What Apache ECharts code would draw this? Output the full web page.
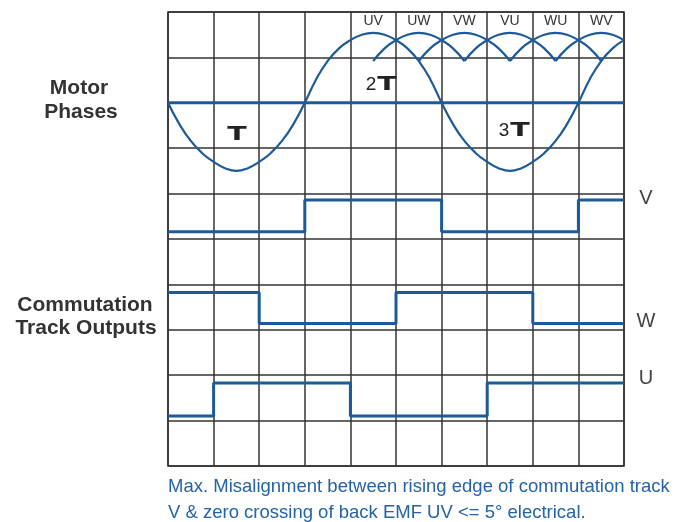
<!DOCTYPE html>
<html>
<head>
<meta charset="utf-8">
<script src="https://cdn.jsdelivr.net/npm/echarts@6/dist/echarts.min.js"></script>
<style>
  html, body { margin: 0; padding: 0; background: #fff; }
  #chart { width: 677px; height: 522px; }
</style>
</head>
<body>
<div id="chart"></div>
<script>
// grid is 10 x 10 cells, x in columns, y in rows counted from the bottom
var phaseX = [0, 0.25, 0.5, 0.75, 1, 1.25, 1.5, 1.75, 2, 2.25, 2.5, 2.75,
              3, 3.25, 3.5, 3.75, 4, 4.25, 4.5, 4.75, 5, 5.25, 5.5, 5.75,
              6, 6.25, 6.5, 6.75, 7, 7.25, 7.5, 7.75, 8, 8.25, 8.5, 8.75,
              9, 9.25, 9.5, 9.75, 10];
var phaseY = [8.0, 7.53, 7.16, 6.89, 6.7, 6.56, 6.5, 6.56, 6.7, 6.89, 7.16, 7.53,
              8.0, 8.52, 8.92, 9.2, 9.38, 9.5, 9.54, 9.5, 9.38, 9.2, 8.92, 8.52,
              8.0, 7.53, 7.16, 6.89, 6.7, 6.56, 6.5, 6.56, 6.7, 6.89, 7.16, 7.53,
              8.0, 8.52, 8.92, 9.2, 9.38];

// back EMF arcs near the top (UW ... WV)
var arcY = [8.92, 9.2, 9.38, 9.5, 9.54, 9.5, 9.38, 9.2, 8.92];
var uwX = [4.5, 4.75, 5, 5.25, 5.5, 5.75, 6, 6.25, 6.5];
var vwX = [5.5, 5.75, 6, 6.25, 6.5, 6.75, 7, 7.25, 7.5];
var vuX = [6.5, 6.75, 7, 7.25, 7.5, 7.75, 8, 8.25, 8.5];
var wuX = [7.5, 7.75, 8, 8.25, 8.5, 8.75, 9, 9.25, 9.5];
var wvX = [8.5, 8.75, 9, 9.25, 9.5, 9.75, 10];

var zeroLine = [[0, 8], [10, 8]];

// commutation tracks (edge positions / levels)
var vX = [0, 3, 6, 9, 10];
var vY = [5.16, 5.86, 5.16, 5.86, 5.86];
var wX = [0, 2, 5, 8, 10];
var wY = [3.82, 3.14, 3.82, 3.14, 3.14];
var uX = [0, 1, 4, 7, 10];
var uY = [1.10, 1.83, 1.10, 1.83, 1.83];

var pairLabels = ['UV', 'UW', 'VW', 'VU', 'WU', 'WV'];
var trackLabels = ['V', 'W', 'U'];

var BLUE = '#1d5a98';
var GRID_LEFT = 168, GRID_TOP = 12, GRID_W = 456, GRID_H = 454;

function zip(xs, ys) {
  var out = [];
  for (var i = 0; i < xs.length; i++) out.push([xs[i], ys[i]]);
  return out;
}

function curve(xs, ys) {
  return {
    type: 'line',
    data: zip(xs, ys),
    smooth: true,
    showSymbol: false,
    symbol: 'none',
    lineStyle: { color: BLUE, width: 2.2 }
  };
}

function track(xs, ys) {
  return {
    type: 'line',
    data: zip(xs, ys),
    step: 'end',
    showSymbol: false,
    symbol: 'none',
    lineStyle: { color: BLUE, width: 3 }
  };
}

var chart = echarts.init(document.getElementById('chart'));

var texts = [];
// column labels above the arcs
for (var i = 0; i < pairLabels.length; i++) {
  texts.push({
    type: 'text',
    x: GRID_LEFT + GRID_W / 10 * (4.5 + i),
    y: 21,
    style: { text: pairLabels[i], textAlign: 'center', textVerticalAlign: 'middle',
             font: '14px "Liberation Sans Narrow", "Liberation Sans", sans-serif', fill: '#333' }
  });
}
var trackY = [198, 321, 378];
for (var j = 0; j < trackLabels.length; j++) {
  texts.push({
    type: 'text', x: 646, y: trackY[j],
    style: { text: trackLabels[j], textAlign: 'center', textVerticalAlign: 'middle',
             font: '20px "Liberation Sans", sans-serif', fill: '#444' }
  });
}
var sideFont = 'bold 21px "Liberation Sans", sans-serif';
[['Motor', 79, 88], ['Phases', 81, 112], ['Commutation', 85, 305], ['Track Outputs', 86, 328]].forEach(function (t) {
  texts.push({
    type: 'text', x: t[1], y: t[2],
    style: { text: t[0], textAlign: 'center', textVerticalAlign: 'middle', font: sideFont, fill: '#333' }
  });
});
// period marks
[['T', 237, 135, true], ['2', 371, 85, false], ['T', 387, 85, true], ['3', 504, 131, false], ['T', 520, 131, true]].forEach(function (t) {
  texts.push({
    type: 'text', x: t[1], y: t[2], scaleX: t[3] ? 1.5 : 1,
    style: { text: t[0], textAlign: 'center', textVerticalAlign: 'middle',
             font: (t[3] ? 'bold 19px "DejaVu Sans"' : '19px "Liberation Sans"'), fill: '#222' }
  });
});
// note under the chart
texts.push({
  type: 'text', x: 168, y: 487,
  style: { text: 'Max. Misalignment between rising edge of commutation track', textAlign: 'left',
           textVerticalAlign: 'middle', font: '18.5px "Liberation Sans", sans-serif', fill: '#2463a6' }
});
texts.push({
  type: 'text', x: 168, y: 513,
  style: { text: 'V & zero crossing of back EMF UV <= 5\u00b0 electrical.', textAlign: 'left',
           textVerticalAlign: 'middle', font: '18.5px "Liberation Sans", sans-serif', fill: '#2463a6' }
});

var option = {
  backgroundColor: '#fff',
  animation: false,
  grid: {
    left: GRID_LEFT, top: GRID_TOP, width: GRID_W, height: GRID_H,
    show: true, borderColor: '#333', borderWidth: 1.5
  },
  xAxis: {
    type: 'value', min: 0, max: 10, interval: 1,
    axisLine: { show: false }, axisTick: { show: false }, axisLabel: { show: false },
    splitLine: { lineStyle: { color: '#333', width: 1.5 } }
  },
  yAxis: {
    type: 'value', min: 0, max: 10, interval: 1,
    axisLine: { show: false }, axisTick: { show: false }, axisLabel: { show: false },
    splitLine: { lineStyle: { color: '#333', width: 1.5 } }
  },
  series: [
    { type: 'line', data: zeroLine, showSymbol: false, symbol: 'none', lineStyle: { color: BLUE, width: 3 } },
    curve(phaseX, phaseY),
    curve(uwX, arcY),
    curve(vwX, arcY),
    curve(vuX, arcY),
    curve(wuX, arcY),
    curve(wvX, arcY.slice(0, wvX.length)),
    track(vX, vY),
    track(wX, wY),
    track(uX, uY)
  ],
  graphic: { elements: texts }
};

chart.setOption(option);
</script>
</body>
</html>
